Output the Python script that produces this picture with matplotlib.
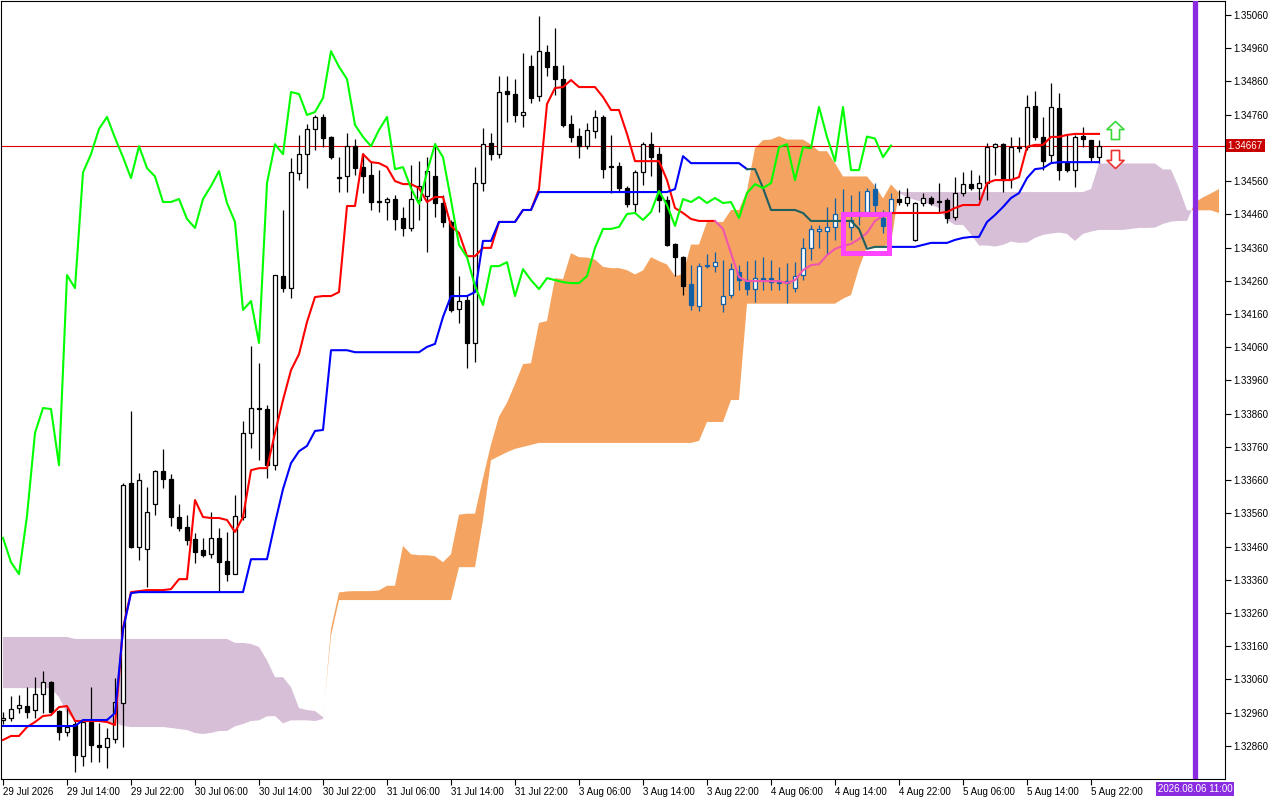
import numpy as np
import matplotlib
matplotlib.use("Agg")
import matplotlib.pyplot as plt
from matplotlib.patches import Rectangle
from matplotlib.path import Path

plt.rcParams['font.family'] = ['Liberation Sans', 'DejaVu Sans']

# H1 candles, prices in points (1 point = 0.00001)
opens = [
    132938, 132944, 132974, 132980, 132968, 133016, 133052, 132965, 132902, 132926,
    132829, 132932, 132863, 132857, 132881, 132989, 133651, 133459, 133453, 133588,
    133687, 133663, 133549, 133519, 133483, 133449, 133437, 133486, 133416, 133377,
    133549, 133802, 133877, 133874, 133705, 134274, 134238, 134584, 134641, 134717,
    134753, 134693, 134572, 134575, 134665, 134602, 134578, 134500, 134497, 134506,
    134449, 134419, 134503, 134515, 134575, 134494, 134437, 134175, 134202, 134073,
    134554, 134674, 134641, 134831, 134822, 134759, 134906, 134816, 134948, 134906,
    134867, 134732, 134696, 134665, 134711, 134753, 134605, 134605, 134539, 134491,
    134587, 134671, 134641, 134503, 134371, 134331, 134250, 134184, 134307, 134304,
    134190, 134217, 134286, 134262, 134235, 134268, 134268, 134256, 134259, 134238,
    134277, 134359, 134410, 134410, 134422, 134461, 134422, 134464, 134467, 134536,
    134449, 134464, 134506, 134494, 134384, 134494, 134509, 134500, 134503, 134452,
    134524, 134551, 134539, 134554, 134662, 134671, 134566, 134662, 134662, 134786,
    134693, 134638, 134780, 134617, 134593, 134696, 134685, 134632]
highs = [
    132962, 133010, 133013, 133037, 133067, 133085, 133055, 132968, 132974, 132938,
    132941, 133037, 132929, 132914, 133064, 133651, 133868, 133681, 133639, 133690,
    133754, 133678, 133588, 133555, 133501, 133486, 133564, 133516, 133504, 133615,
    133838, 134064, 134012, 133886, 134277, 134473, 134629, 134699, 134732, 134759,
    134762, 134696, 134632, 134705, 134686, 134644, 134617, 134593, 134512, 134518,
    134482, 134608, 134620, 134632, 134674, 134518, 134443, 134274, 134214, 134602,
    134720, 134705, 134876, 134876, 134867, 134945, 134939, 135057, 134970, 135021,
    134909, 134759, 134720, 134735, 134774, 134759, 134699, 134617, 134545, 134593,
    134677, 134708, 134662, 134515, 134374, 134334, 134307, 134313, 134340, 134346,
    134322, 134313, 134307, 134319, 134322, 134331, 134322, 134301, 134313, 134316,
    134389, 134428, 134428, 134482, 134509, 134536, 134518, 134530, 134539, 134554,
    134473, 134524, 134533, 134539, 134497, 134524, 134515, 134554, 134509, 134572,
    134587, 134593, 134578, 134674, 134674, 134674, 134694, 134694, 134819, 134831,
    134753, 134855, 134825, 134699, 134699, 134723, 134685, 134685]
lows = [
    132926, 132935, 132959, 132944, 132944, 132959, 132953, 132878, 132890, 132781,
    132799, 132811, 132811, 132793, 132869, 132857, 133456, 133419, 133338, 133555,
    133636, 133522, 133507, 133465, 133410, 133428, 133425, 133326, 133356, 133377,
    133540, 133757, 133720, 133666, 133690, 134226, 134208, 134563, 134539, 134653,
    134662, 134626, 134527, 134527, 134578, 134524, 134473, 134467, 134443, 134413,
    134395, 134410, 134443, 134346, 134452, 134422, 134166, 134133, 133997, 134015,
    134530, 134623, 134629, 134738, 134738, 134723, 134795, 134801, 134876, 134819,
    134723, 134677, 134629, 134657, 134690, 134569, 134524, 134527, 134482, 134467,
    134548, 134575, 134467, 134365, 134274, 134217, 134172, 134169, 134298, 134286,
    134166, 134208, 134232, 134217, 134196, 134232, 134232, 134232, 134193, 134226,
    134262, 134322, 134359, 134337, 134383, 134352, 134383, 134428, 134458, 134464,
    134404, 134413, 134488, 134485, 134380, 134485, 134488, 134467, 134434, 134443,
    134515, 134533, 134503, 134503, 134578, 134527, 134539, 134647, 134653, 134684,
    134593, 134614, 134563, 134587, 134542, 134662, 134619, 134613]
closes = [
    132944, 132971, 132983, 132962, 133016, 133052, 132962, 132902, 132917, 132832,
    132932, 132863, 132857, 132884, 132992, 133645, 133459, 133660, 133564, 133687,
    133663, 133549, 133516, 133480, 133443, 133434, 133486, 133413, 133377, 133552,
    133802, 133877, 133874, 133705, 134277, 134238, 134586, 134641, 134717, 134753,
    134690, 134632, 134569, 134665, 134599, 134574, 134497, 134497, 134506, 134446,
    134419, 134506, 134545, 134590, 134494, 134437, 134172, 134199, 134073, 134554,
    134671, 134641, 134828, 134822, 134759, 134768, 134810, 134951, 134904, 134867,
    134729, 134693, 134665, 134714, 134753, 134596, 134602, 134539, 134491, 134587,
    134671, 134632, 134503, 134368, 134331, 134244, 134187, 134304, 134304, 134316,
    134214, 134295, 134262, 134235, 134268, 134262, 134256, 134253, 134253, 134274,
    134359, 134416, 134416, 134422, 134461, 134464, 134443, 134467, 134530, 134488,
    134425, 134506, 134497, 134512, 134494, 134509, 134494, 134497, 134449, 134524,
    134551, 134539, 134554, 134662, 134671, 134563, 134662, 134659, 134783, 134693,
    134620, 134783, 134593, 134593, 134694, 134688, 134632, 134667]

# Ichimoku lines (points)
tenkan = [
    132878, 132890, 132890, 132917, 132932, 132950, 132953, 132977, 132980, 132935,
    132935, 132935, 132935, 132932, 132923, 133215, 133323, 133326, 133329, 133329,
    133329, 133332, 133362, 133362, 133600, 133549, 133546, 133546, 133540, 133504,
    133549, 133690, 133696, 133696, 133802, 133901, 133991, 134039, 134136, 134211,
    134214, 134214, 134226, 134485, 134485, 134641, 134617, 134614, 134602, 134560,
    134551, 134551, 134539, 134497, 134512, 134512, 134425, 134404, 134334, 134334,
    134359, 134359, 134437, 134437, 134437, 134473, 134473, 134536, 134792, 134840,
    134843, 134864, 134843, 134843, 134843, 134813, 134774, 134774, 134702, 134620,
    134620, 134620, 134620, 134563, 134479, 134464, 134446, 134440, 134440, 134440,
    134416, 134343, 134271, 134259, 134259, 134259, 134259, 134259, 134253, 134262,
    134292, 134307, 134310, 134337, 134356, 134365, 134371, 134386, 134404, 134440,
    134455, 134464, 134464, 134464, 134464, 134464, 134464, 134464, 134467, 134479,
    134488, 134488, 134488, 134554, 134563, 134563, 134563, 134572, 134663, 134669,
    134669, 134693, 134693, 134699, 134702, 134702, 134702, 134702]
kijun = [
    132920, 132920, 132920, 132920, 132920, 132920, 132920, 132920, 132920, 132920,
    132938, 132938, 132938, 132938, 132959, 133209, 133320, 133323, 133323, 133323,
    133323, 133323, 133323, 133323, 133323, 133323, 133323, 133323, 133323, 133323,
    133323, 133422, 133422, 133422, 133531, 133633, 133711, 133747, 133763, 133808,
    133811, 134051, 134051, 134051, 134045, 134045, 134045, 134045, 134045, 134045,
    134045, 134045, 134045, 134061, 134070, 134151, 134214, 134214, 134214, 134226,
    134380, 134380, 134437, 134437, 134437, 134473, 134473, 134527, 134527, 134527,
    134527, 134527, 134527, 134527, 134527, 134527, 134527, 134527, 134527, 134527,
    134527, 134527, 134527, 134527, 134536, 134635, 134614, 134614, 134614, 134614,
    134614, 134614, 134614, 134596, 134596, 134539, 134473, 134473, 134473, 134473,
    134464, 134440, 134440, 134440, 134440, 134440, 134440, 134416, 134356, 134362,
    134362, 134362, 134362, 134362, 134362, 134368, 134374, 134374, 134374, 134383,
    134389, 134392, 134392, 134437, 134458, 134482, 134509, 134524, 134569, 134596,
    134599, 134614, 134617, 134617, 134617, 134617, 134617, 134617]
senkou_a = [
    133034, 133034, 133034, 133034, 133034, 133034, 133034, 133007, 132959, 132938,
    132938, 132938, 132938, 132932, 132929, 132920, 132917, 132917, 132917, 132917,
    132917, 132914, 132911, 132908, 132899, 132896, 132899, 132905, 132905, 132919,
    132926, 132935, 132937, 132949, 132950, 132928, 132937, 132937, 132937, 132935,
    132941, 133212, 133322, 133325, 133326, 133326, 133326, 133328, 133342, 133342,
    133462, 133437, 133434, 133434, 133431, 133413, 133437, 133556, 133559, 133559,
    133666, 133767, 133851, 133893, 133949, 134009, 134012, 134133, 134139, 134268,
    134265, 134343, 134331, 134330, 134324, 134302, 134298, 134298, 134292, 134279,
    134291, 134331, 134319, 134309, 134274, 134280, 134369, 134369, 134437, 134437,
    134437, 134473, 134473, 134532, 134659, 134683, 134685, 134695, 134685, 134685,
    134685, 134670, 134650, 134650, 134614, 134574, 134574, 134574, 134574, 134545,
    134508, 134550, 134524, 134512, 134503, 134497, 134488, 134479, 134443, 134428,
    134428, 134400, 134366, 134366, 134363, 134368, 134378, 134374, 134375, 134389,
    134398, 134402, 134405, 134401, 134380, 134401, 134408, 134413, 134413, 134413,
    134413, 134416, 134419, 134419, 134420, 134431, 134438, 134440, 134440, 134496,
    134511, 134523, 134536]
senkou_b = [
    133188, 133188, 133188, 133188, 133188, 133188, 133188, 133188, 133188, 133182,
    133182, 133182, 133182, 133182, 133182, 133182, 133182, 133182, 133182, 133182,
    133182, 133182, 133182, 133182, 133182, 133182, 133182, 133182, 133182, 133170,
    133170, 133167, 133158, 133118, 133067, 133067, 133037, 132974, 132968, 132965,
    132947, 133191, 133299, 133299, 133299, 133299, 133299, 133299, 133299, 133299,
    133299, 133299, 133299, 133299, 133299, 133299, 133299, 133398, 133398, 133398,
    133540, 133720, 133732, 133744, 133754, 133760, 133766, 133772, 133772, 133772,
    133772, 133772, 133772, 133772, 133772, 133772, 133772, 133772, 133772, 133772,
    133772, 133772, 133772, 133772, 133772, 133772, 133772, 133778, 133835, 133835,
    133835, 133901, 133901, 134191, 134191, 134191, 134191, 134191, 134191, 134191,
    134191, 134191, 134191, 134191, 134191, 134206, 134217, 134298, 134362, 134362,
    134362, 134374, 134527, 134527, 134527, 134527, 134527, 134527, 134527, 134527,
    134527, 134527, 134527, 134527, 134527, 134527, 134527, 134527, 134527, 134527,
    134527, 134527, 134527, 134527, 134527, 134527, 134536, 134613, 134613, 134613,
    134613, 134613, 134613, 134613, 134613, 134595, 134595, 134539, 134472, 134472,
    134472, 134472, 134464]

tick_bars = list(range(0, 137, 8))
tick_labels = ["29 Jul 2026", "29 Jul 14:00", "29 Jul 22:00", "30 Jul 06:00",
               "30 Jul 14:00", "30 Jul 22:00", "31 Jul 06:00", "31 Jul 14:00",
               "31 Jul 22:00", "3 Aug 06:00", "3 Aug 14:00", "3 Aug 22:00",
               "4 Aug 06:00", "4 Aug 14:00", "4 Aug 22:00", "5 Aug 06:00",
               "5 Aug 14:00", "5 Aug 22:00"]
price_ticks = [1.35060 - 0.001 * k for k in range(23)]

last_price = 1.34667
cursor_bar = 149
cursor_label = "2026.08.06 11:00"
blue_bars = (86, 111)
pink_tenkan = (89, 111)
teal_kijun = (93, 111)
box_bars = (105.0, 110.8)
box_prices = (1.34344, 1.34460)
arrow_bar = 139
arrow_up_price = 1.34714
arrow_down_price = 1.34626

o = np.array(opens) / 1e5
h = np.array(highs) / 1e5
l = np.array(lows) / 1e5
c = np.array(closes) / 1e5
tk = np.array(tenkan) / 1e5
kj = np.array(kijun) / 1e5
sa = np.array(senkou_a) / 1e5
sb = np.array(senkou_b) / 1e5
n = len(o)
bars = np.arange(n)
cx = np.arange(len(sa))

fig = plt.figure(figsize=(12.8, 8), dpi=100)
ax = fig.add_axes([1 / 1280, 21 / 800, 1224 / 1280, 778 / 800])

# cloud
ax.fill_between(cx, sa, sb, where=sa >= sb, interpolate=True, color='#f4a460', lw=0, zorder=1)
ax.fill_between(cx, sa, sb, where=sa <= sb, interpolate=True, color='#d8bfd8', lw=0, zorder=1)

ax.axhline(last_price, color='#e00000', lw=0.8, zorder=2)

# candles
cols = ['#1060a8' if blue_bars[0] <= i <= blue_bars[1] else 'black' for i in bars]
ax.vlines(bars, l, h, colors=cols, lw=0.9, zorder=3)
bull = c >= o
face = ['white' if bull[i] else cols[i] for i in bars]
ax.bar(bars, np.abs(c - o), bottom=np.minimum(o, c), width=0.56,
       color=face, edgecolor=cols, lw=0.9, zorder=3.5)

# tenkan / kijun / chikou
a, b = pink_tenkan
ax.plot(bars[:a + 1], tk[:a + 1], color='red', lw=1.5, zorder=4)
ax.plot(bars[a:b + 1], tk[a:b + 1], color='#f055b0', lw=1.5, zorder=4)
ax.plot(bars[b:], tk[b:], color='red', lw=1.5, zorder=4)
a, b = teal_kijun
ax.plot(bars[:a + 1], kj[:a + 1], color='#0000ff', lw=1.5, zorder=4)
ax.plot(bars[a:b + 1], kj[a:b + 1], color='#1f5f5f', lw=1.5, zorder=4)
ax.plot(bars[b:], kj[b:], color='#0000ff', lw=1.5, zorder=4)
ax.plot(bars[:n - 26], c[26:], color='#00ff00', lw=1.5, zorder=4)

ax.add_patch(Rectangle((box_bars[0], box_prices[0]), box_bars[1] - box_bars[0],
                       box_prices[1] - box_prices[0], fill=False,
                       ec='#ff44ff', lw=3.6, zorder=5))

up_arrow = Path([(0, 1), (0.95, 0.1), (0.45, 0.1), (0.45, -1), (-0.45, -1),
                 (-0.45, 0.1), (-0.95, 0.1), (0, 1)], closed=True)
down_arrow = Path([(0, -1), (0.95, -0.1), (0.45, -0.1), (0.45, 1), (-0.45, 1),
                   (-0.45, -0.1), (-0.95, -0.1), (0, -1)], closed=True)
ax.plot(arrow_bar, arrow_up_price, marker=up_arrow, ms=13, mfc='white',
        mec='#3ad83a', mew=1.2, zorder=6)
ax.plot(arrow_bar, arrow_down_price, marker=down_arrow, ms=13, mfc='white',
        mec='#ee3030', mew=1.2, zorder=6)

ax.axvline(cursor_bar, color='#8a2be2', lw=3.8, zorder=6)

ax.set_xlim(-0.25, 152.75)
ax.set_ylim(1.327605, 1.35102)
ax.set_xticks(tick_bars)
ax.set_xticklabels(tick_labels, ha='left')
ax.set_yticks(price_ticks)
# the tick hidden behind the current-price tag gets no text
ax.set_yticklabels(['' if abs(p - last_price) < 0.0002 else f'{p:.5f}' for p in price_ticks])
ax.yaxis.tick_right()
ax.tick_params(axis='both', direction='out', length=4, width=0.8,
               labelsize=7, pad=2, colors='black')
for s in ax.spines.values():
    s.set_linewidth(0.8)

ax.annotate(f'{last_price:.5f}', xy=(1, last_price), xycoords=('axes fraction', 'data'),
            xytext=(2, 0), textcoords='offset points', ha='left', va='center',
            fontsize=7, color='white',
            bbox=dict(boxstyle='square,pad=0.2', fc='#c80000', ec='none'),
            annotation_clip=False, zorder=10)
ax.annotate(cursor_label, xy=(cursor_bar, 0), xycoords=('data', 'axes fraction'),
            xytext=(0, -7), textcoords='offset points', ha='center', va='center',
            fontsize=7, color='white',
            bbox=dict(boxstyle='square,pad=0.2', fc='#8a2be2', ec='none'),
            annotation_clip=False, zorder=10)

fig.savefig('out.png', dpi=100)
